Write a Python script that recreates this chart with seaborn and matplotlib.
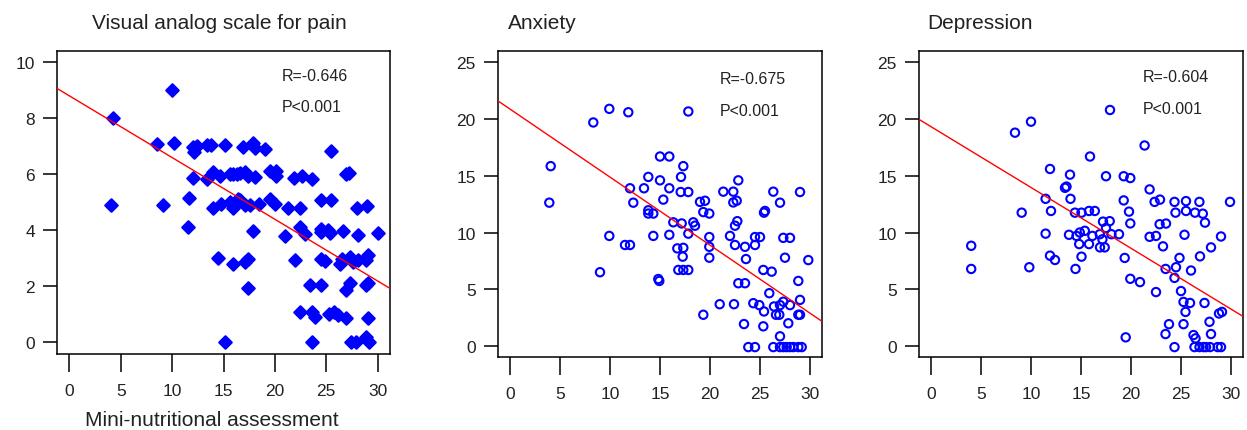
import matplotlib
matplotlib.use("Agg")
import matplotlib.pyplot as plt
import seaborn as sns
import numpy as np
import pandas as pd

# ---------------- data ----------------
titles = ["Visual analog scale for pain", "Anxiety", "Depression"]
x_label = "Mini-nutritional assessment"
r_labels = ["R=-0.646", "R=-0.675", "R=-0.604"]
p_labels = ["P<0.001", "P<0.001", "P<0.001"]

x_ticks = [0, 5, 10, 15, 20, 25, 30]
y_ticks_pain = [0, 2, 4, 6, 8, 10]
y_ticks_mood = [0, 5, 10, 15, 20, 25]

pain_x = [4.2, 4.1, 8.5, 9.1, 10.0, 10.2, 11.5, 11.6,
          12.0, 12.1, 12.4, 13.4, 13.8, 15.1, 16.9, 17.9, 18.1, 19.0, 25.5,
          12.0, 13.4, 14.0, 14.7, 15.6, 15.95, 16.3, 16.6, 17.1, 17.4, 18.1, 19.5, 20.1, 20.1, 21.9, 22.6, 23.6, 26.96, 27.2,
          13.95, 14.8, 15.6, 15.95, 16.4, 16.6, 17.1, 17.6, 18.5, 19.5, 20.0, 21.3, 22.4, 24.5, 25.5, 28.0, 29.0,
          17.9, 21.0, 22.4, 22.9, 24.5, 24.5, 25.2, 25.4, 26.6, 28.1, 30.0,
          14.5, 15.9, 17.1, 17.4, 22.0, 24.5, 24.85, 26.3, 26.5, 27.3, 27.6, 28.1, 28.9, 29.1,
          17.4, 23.4, 24.5, 26.96, 27.3, 28.9, 29.1,
          22.4, 23.6, 23.9, 25.3, 25.8, 26.15, 26.96, 29.1,
          15.15, 23.6, 27.4, 27.9, 28.9, 29.2]
pain_y = [8.0, 4.9, 7.07, 4.9, 9.0, 7.1, 4.1, 5.15,
          6.96, 6.8, 7.02, 7.05, 7.05, 7.05, 6.96, 7.1, 6.93, 6.9, 6.84,
          5.86, 5.84, 6.07, 5.95, 6.0, 6.0, 6.0, 6.04, 6.07, 5.95, 5.9, 6.1, 6.1, 5.95, 5.86, 5.95, 5.84, 6.0, 6.04,
          4.8, 4.95, 5.0, 4.8, 5.1, 5.07, 4.9, 4.9, 4.95, 5.12, 4.95, 4.8, 4.8, 5.07, 5.07, 4.8, 4.88,
          3.96, 3.8, 4.1, 3.88, 3.94, 4.06, 4.0, 3.92, 3.96, 3.84, 3.9,
          3.0, 2.78, 2.87, 2.99, 2.95, 2.99, 2.89, 2.78, 2.99, 3.05, 2.87, 2.93, 2.93, 3.13,
          1.95, 2.04, 2.04, 1.88, 2.1, 2.04, 2.1,
          1.09, 1.07, 0.91, 1.0, 1.09, 0.97, 0.85, 0.85,
          0.0, 0.0, 0.0, 0.0, 0.2, 0.0]

anx_x = [4.07, 3.93, 8.33, 9.93, 9.0, 9.93, 11.83, 11.5, 12.0, 12.0, 12.33, 17.83,
         15.0, 15.93, 17.33, 13.83, 15.0, 17.1, 13.4, 15.93, 17.07, 17.83, 15.33,
         13.83, 13.83, 14.33, 19.0, 19.5, 19.33, 19.93, 16.33, 17.17, 18.33, 18.5,
         14.33, 15.93, 17.83, 19.93, 19.93, 19.93, 16.73, 17.33, 17.27, 16.83, 17.33, 17.83,
         14.83, 14.93, 21.33, 22.33, 22.67, 22.33, 22.83, 22.73, 22.5, 22.0, 22.5, 23.5, 23.6,
         25.4, 25.5, 26.33, 27.0, 29.0, 24.5, 25.0, 24.5, 27.33, 28.0, 25.33, 26.17, 27.5, 29.83,
         22.83, 23.5, 28.83, 20.97, 22.4, 19.33, 24.33, 24.93, 25.4, 25.93, 26.4, 26.6, 27.0,
         27.33, 26.93, 28.0, 27.83, 29.0, 28.83, 29.0, 23.4, 25.33, 27.0,
         23.83, 24.5, 26.33, 27.0, 27.33, 27.67, 28.0, 28.33, 28.83, 29.17]
anx_y = [15.85, 12.63, 19.7, 20.9, 6.5, 9.7, 20.6, 8.9, 8.9, 13.9, 12.63, 20.67,
         16.7, 16.7, 15.85, 14.9, 14.6, 14.9, 13.9, 13.9, 13.57, 13.57, 12.9,
         11.96, 11.67, 11.67, 12.7, 12.8, 11.8, 11.67, 10.9, 10.8, 10.9, 10.6,
         9.7, 9.8, 9.9, 9.6, 8.74, 7.78, 8.6, 8.65, 7.87, 6.7, 6.7, 6.7,
         5.9, 5.73, 13.6, 13.6, 12.8, 12.65, 14.6, 11.0, 10.6, 9.7, 8.9, 8.74, 7.66,
         11.75, 11.9, 13.6, 12.63, 13.57, 9.6, 9.6, 8.9, 9.53, 9.53, 6.7, 6.55, 7.78, 7.57,
         5.53, 5.53, 5.73, 3.68, 3.68, 2.75, 3.77, 3.6, 3.04, 4.65, 3.48, 2.75, 3.6,
         3.9, 2.75, 3.6, 2.0, 4.06, 2.75, 2.75, 1.93, 1.73, 0.85,
         -0.1, -0.1, -0.1, -0.1, -0.1, -0.1, -0.1, -0.1, -0.1, -0.1]

dep_x = [4.02, 4.02, 8.4, 10.0, 9.07, 9.83, 11.46, 11.9, 11.46, 12.0, 11.9, 12.4,
         13.4, 13.55, 13.9, 13.95, 13.8, 14.45, 15.05, 15.9, 17.9, 17.5,
         21.36, 19.27, 19.93, 21.86, 22.36, 22.9, 19.27, 19.8, 19.93,
         24.35, 25.5, 26.84, 29.9, 24.45, 25.5, 26.4, 27.18, 27.4, 22.86, 23.5,
         14.39, 15.05, 15.8, 16.38, 17.2, 17.87, 17.5, 14.88, 15.38, 16.14, 14.55,
         14.82, 15.8, 16.88, 17.14, 17.37, 16.9, 18.04, 18.8, 19.37,
         21.86, 22.5, 23.2, 25.35, 24.85, 24.5, 23.46, 24.35, 26.0, 28.0, 29.0, 26.9,
         19.93, 20.9, 22.5, 25.0, 25.25, 25.9, 25.45, 25.25, 27.35, 28.8, 29.1, 27.85,
         23.8, 23.45, 19.47, 26.25, 26.45, 28.0,
         24.35, 26.35, 26.85, 27.25, 27.5, 27.9, 28.67, 29.0]
dep_y = [8.83, 6.79, 18.8, 19.77, 11.75, 6.94, 9.9, 15.6, 12.97, 11.9, 7.96, 7.58,
         13.94, 14.05, 15.1, 12.97, 9.8, 6.79, 7.87, 16.7, 20.8, 14.96,
         17.67, 14.96, 14.8, 13.8, 12.7, 12.9, 12.83, 11.84, 10.8,
         12.7, 12.77, 12.7, 12.7, 11.75, 11.9, 11.75, 11.66, 10.87, 10.73, 10.79,
         11.75, 11.75, 11.9, 11.9, 10.96, 11.0, 10.4, 10.0, 10.15, 9.7, 9.7,
         8.98, 8.98, 9.85, 9.4, 8.69, 8.69, 9.85, 9.85, 7.76,
         9.62, 9.7, 8.78, 9.8, 7.76, 6.94, 6.79, 6.0, 6.65, 8.69, 9.65, 7.9,
         5.92, 5.63, 4.75, 4.84, 3.88, 3.79, 3.0, 1.92, 3.79, 2.86, 3.0, 2.13,
         1.92, 1.05, 0.76, 0.96, 0.67, 1.05,
         -0.1, -0.1, -0.1, -0.1, -0.1, -0.1, -0.1, -0.1]

# fitted regression lines (intercept, slope) as shown in the chart
fit_intercepts = [8.80, 20.88, 19.33]
fit_slopes = [-0.2204, -0.5997, -0.536]

# ---------------- figure ----------------
sns.set_style("white")
plt.rcParams["font.family"] = ["Liberation Sans", "DejaVu Sans"]

W, H = 1247, 431
fig = plt.figure(figsize=(W / 100, H / 100), dpi=100)

def axes_px(left, top, right, bottom):
    return fig.add_axes([left / W, 1 - bottom / H, (right - left) / W, (bottom - top) / H])

ax1 = axes_px(57, 52, 390, 354.5)
ax2 = axes_px(498, 52, 822, 358.3)
ax3 = axes_px(919, 52, 1243, 358.3)
axes = [ax1, ax2, ax3]

df1 = pd.DataFrame({"mna": pain_x, "score": pain_y})
df2 = pd.DataFrame({"mna": anx_x, "score": anx_y})
df3 = pd.DataFrame({"mna": dep_x, "score": dep_y})

sns.scatterplot(data=df1, x="mna", y="score", ax=ax1, marker="D", s=40,
                color="#0000ff", edgecolor="#0000ff", linewidth=1.6, zorder=3)
for ax, df in [(ax2, df2), (ax3, df3)]:
    sns.scatterplot(data=df, x="mna", y="score", ax=ax, marker="o", s=36,
                    facecolors="none", edgecolor="#0000ff", linewidth=1.5, zorder=3)

for ax, b0, b1 in zip(axes, fit_intercepts, fit_slopes):
    ax.axline((0, b0), slope=b1, color="#ff0000", linewidth=1.0, zorder=4)

ax1.set_ylim(-0.4, 10.4)
ax1.set_yticks(y_ticks_pain)
for ax in (ax2, ax3):
    ax.set_ylim(-1, 26)
    ax.set_yticks(y_ticks_mood)

for ax in axes:
    ax.set_xlim(-1.2, 31.2)
    ax.set_xticks(x_ticks)
    ax.set_xlabel("")
    ax.set_ylabel("")
    for sp in ax.spines.values():
        sp.set_visible(True)
        sp.set_color("black")
        sp.set_linewidth(1.1)
    ax.tick_params(axis="both", direction="out", color="black", width=1.1,
                   labelsize=12.5, labelcolor="#222222")
    ax.tick_params(axis="x", bottom=True, top=False, length=13, pad=8)
    ax.tick_params(axis="y", left=True, right=False, length=10, pad=6)
    ax.grid(False)

# titles
title_pos = [(91.5, 29), (508, 29), (927, 29)]
for (tx, ty), t in zip(title_pos, titles):
    fig.text(tx / W, 1 - ty / H, t, fontsize=15, color="#222222", ha="left", va="baseline")

# R / P annotations
rp_pos = [(282, 81, 112.5), (720, 84, 116.5), (1143, 81.5, 114)]
for (px, ry, py), r, p in zip(rp_pos, r_labels, p_labels):
    fig.text(px / W, 1 - ry / H, r, fontsize=11.5, color="#222222", ha="left", va="baseline")
    fig.text(px / W, 1 - py / H, p, fontsize=11.5, color="#222222", ha="left", va="baseline")

fig.text(212 / W, 1 - 426 / H, x_label, fontsize=15, color="#222222", ha="center", va="baseline")

fig.savefig("out.png", dpi=100, facecolor="white")
